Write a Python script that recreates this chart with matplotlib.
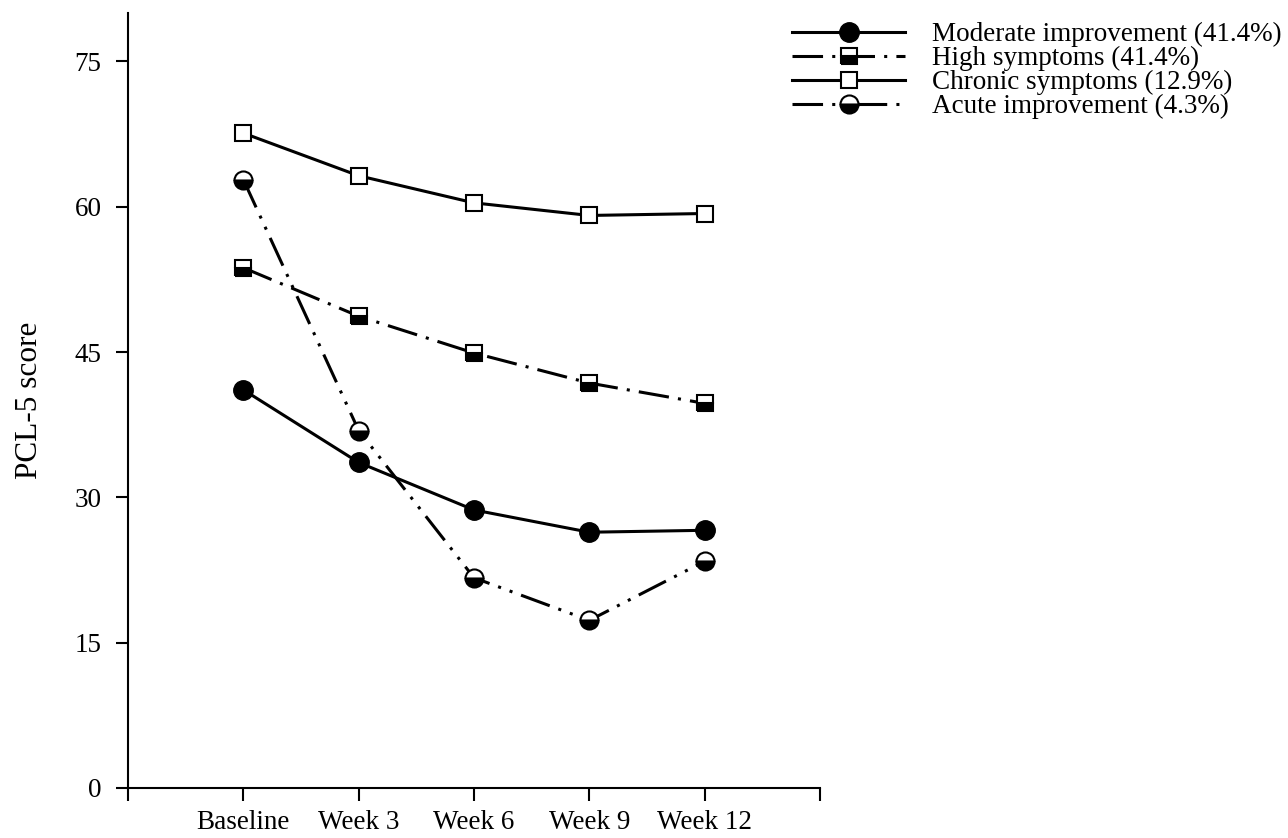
import numpy as np
import matplotlib
matplotlib.use("Agg")
import matplotlib.pyplot as plt

plt.rcParams['font.family'] = ['Liberation Serif', 'DejaVu Serif']

# time points and PCL-5 trajectories
timepoints = ["Baseline", "Week 3", "Week 6", "Week 9", "Week 12"]
moderate = [41.1, 33.6, 28.7, 26.4, 26.6]
high = [53.7, 48.7, 44.9, 41.8, 39.7]
chronic = [67.6, 63.2, 60.4, 59.1, 59.3]
acute = [62.8, 36.9, 21.7, 17.3, 23.4]

labels = ["Moderate improvement (41.4%)", "High symptoms (41.4%)",
          "Chronic symptoms (12.9%)", "Acute improvement (4.3%)"]

x = np.arange(1, len(timepoints) + 1)

fig = plt.figure(figsize=(12.88, 8.38), dpi=100)
ax = fig.add_axes([0.0994, 0.0597, 0.5372, 0.9248])

lw = 2.2
ax.plot(x, moderate, color='black', lw=lw, marker='o', ms=14,
        mfc='black', mec='black', label=labels[0], zorder=3)
ax.plot(x, high, color='black', lw=lw, dashes=(10, 3, 1, 3), marker='s', ms=12,
        fillstyle='bottom', mfc='black', mfcalt='white', mec='black', mew=1.5,
        label=labels[1], zorder=3)
ax.plot(x, chronic, color='black', lw=lw, marker='s', ms=12,
        mfc='white', mec='black', mew=1.5, label=labels[2], zorder=3)
ax.plot(x, acute, color='black', lw=lw, dashes=(10, 3, 1, 3, 1, 3), marker='o', ms=13,
        fillstyle='bottom', mfc='black', mfcalt='white', mec='black', mew=1.5,
        label=labels[3], zorder=3)

ax.set_xlim(0, 6)
ax.set_ylim(0, 80)
ax.set_xticks(np.arange(0, 7))
ax.set_xticklabels([""] + timepoints + [""])
ax.set_yticks(np.arange(0, 76, 15))
ax.tick_params(axis='both', direction='out', length=9, width=1.5, labelsize=19.5)
ax.tick_params(axis='x', pad=7)
ax.tick_params(axis='y', pad=10)
ax.spines['top'].set_visible(False)
ax.spines['right'].set_visible(False)
ax.spines['left'].set_linewidth(1.5)
ax.spines['bottom'].set_linewidth(1.5)
ax.set_ylabel("PCL-5 score", fontsize=22.5, labelpad=22)

leg = fig.legend(loc='upper left', bbox_to_anchor=(0.5957, 1.003), frameon=False,
                 fontsize=19.5, handlelength=4.2, labelspacing=-0.04, handletextpad=1.0)

fig.savefig("out.png", dpi=100)
